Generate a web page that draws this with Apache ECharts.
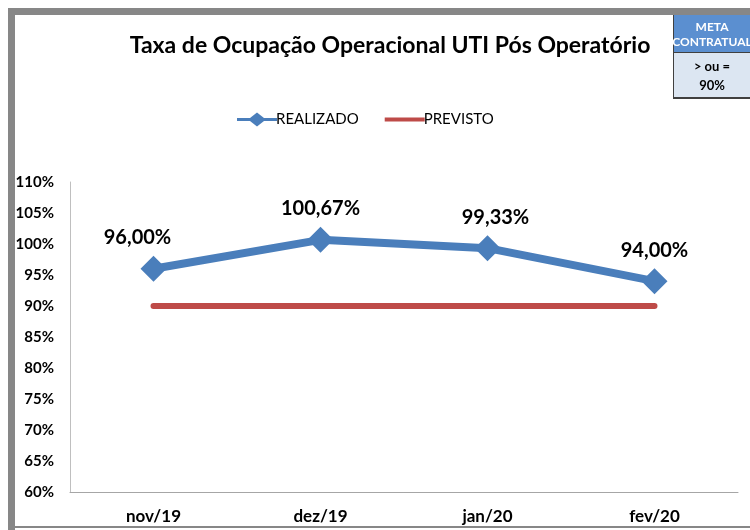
<!DOCTYPE html>
<html><head><meta charset="utf-8">
<script src="https://cdn.jsdelivr.net/npm/echarts@6/dist/echarts.min.js"></script>
<style>html,body{margin:0;padding:0;background:#fff}#c{width:750px;height:530px}</style>
</head><body><div id="c"></div>
<script>
var categories = ['nov/19', 'dez/19', 'jan/20', 'fev/20'];
var realizado = [96.00, 100.67, 99.33, 94.00];
var previsto = [90, 90, 90, 90];
var yTicks = [60, 65, 70, 75, 80, 85, 90, 95, 100, 105, 110];
var metaHeader = ['META', 'CONTRATUAL'];
var metaValue = ['> ou =', '90%'];

var FONT = 'Lato';
var labelOffsets = [[-16, 0], [0, 0], [8, 0], [0, 0]];
var chart = echarts.init(document.getElementById('c'));
chart.setOption({
  animation: false,
  backgroundColor: '#fff',
  title: {
    text: 'Taxa de Ocupação Operacional UTI Pós Operatório',
    left: 385, top: 29, textAlign: 'center',
    textStyle: {fontFamily: FONT, fontWeight: 'bold', fontSize: 23, color: '#000'}
  },
  legend: {
    top: 107, left: 232, itemGap: 26, itemWidth: 40, itemHeight: 14,
    textStyle: {fontFamily: FONT, fontSize: 15, color: '#000', padding: [0,0,0,-6]},
    data: [
      {name: 'REALIZADO', icon: 'path://M0,5.5 L13,5.5 L20,0 L27,5.5 L40,5.5 L40,8.5 L27,8.5 L20,14 L13,8.5 L0,8.5 Z', itemStyle: {color: '#4a7ebb'}},
      {name: 'PREVISTO', icon: 'path://M0,5 L40,5 L40,9 L0,9 Z', itemStyle: {color: '#be4b48'}}
    ]
  },
  grid: {left: 70, right: 12, top: 182, bottom: 38},
  xAxis: {
    type: 'category', data: categories, boundaryGap: true,
    axisLine: {lineStyle: {color: '#a6a6a6', width: 1}},
    axisTick: {show: false},
    axisLabel: {fontFamily: FONT, fontWeight: 'bold', fontSize: 17, color: '#000', margin: 16}
  },
  yAxis: {
    type: 'value', min: yTicks[0], max: yTicks[yTicks.length-1], interval: 5,
    axisLine: {show: true, lineStyle: {color: '#bfbfbf', width: 1}},
    axisTick: {show: false},
    splitLine: {show: false},
    axisLabel: {fontFamily: FONT, fontWeight: 'bold', fontSize: 15, color: '#000', margin: 16,
      formatter: function(v){ return v + '%'; }}
  },
  series: [
    {
      name: 'REALIZADO', type: 'line',
      data: realizado.map(function(v, i){ return {value: v, label: {offset: labelOffsets[i]}}; }),
      symbol: 'diamond', symbolSize: 26,
      lineStyle: {color: '#4a7ebb', width: 8},
      itemStyle: {color: '#4a7ebb'},
      label: {show: true, position: 'top', distance: 8, fontFamily: FONT, fontWeight: 'bold', fontSize: 20, color: '#000',
        formatter: function(p){ return p.value.toFixed(2).replace('.', ',') + '%'; }},
      z: 3
    },
    {
      name: 'PREVISTO', type: 'line', data: previsto,
      symbol: 'none',
      lineStyle: {color: '#be4b48', width: 6, cap: 'round'},
      itemStyle: {color: '#be4b48'},
      z: 2
    }
  ],
  graphic: [
    {type: 'rect', shape: {x: 8, y: 8, width: 742, height: 7}, style: {fill: '#878787'}},
    {type: 'rect', shape: {x: 8, y: 8, width: 7, height: 522}, style: {fill: '#878787'}},
    {type: 'rect', shape: {x: 8, y: 526, width: 742, height: 2}, style: {fill: '#878787'}},
    {type: 'rect', shape: {x: 673, y: 15, width: 77, height: 37}, style: {fill: '#5b8fd0'}},
    {type: 'rect', shape: {x: 673, y: 52, width: 77, height: 46}, style: {fill: '#dce6f2'}},
    {type: 'rect', shape: {x: 673, y: 15, width: 1, height: 84}, style: {fill: '#404040'}},
    {type: 'rect', shape: {x: 673, y: 52, width: 77, height: 1}, style: {fill: '#404040'}},
    {type: 'rect', shape: {x: 673, y: 97, width: 77, height: 2}, style: {fill: '#404040'}},
    {type: 'text', x: 712, y: 20, style: {text: metaHeader.join('\n'), fill: '#fff', font: 'bold 12px Lato', align: 'center', verticalAlign: 'top', lineHeight: 15}},
    {type: 'text', x: 712, y: 57, style: {text: metaValue.join('\n'), fill: '#000', font: 'bold 13px Lato', align: 'center', verticalAlign: 'top', lineHeight: 19}}
  ]
});
</script></body></html>
